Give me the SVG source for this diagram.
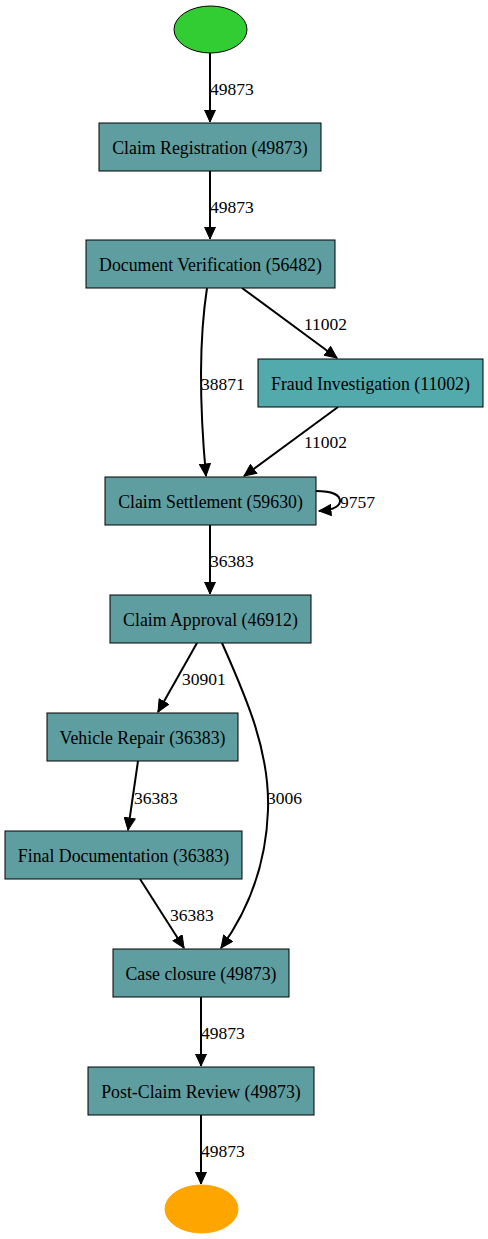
<svg xmlns="http://www.w3.org/2000/svg" width="488" height="1239" viewBox="0 0 488 1239">
<style>
text{font-family:"Liberation Serif","Times New Roman",serif;font-size:17.5px;fill:#000}
.n rect{fill:#5f9ea0;stroke:#000;stroke-width:1}
.n text{text-anchor:middle;font-size:17.8px}
.e path{fill:none;stroke:#000;stroke-width:2;marker-end:url(#ah)}
</style>
<defs>
<marker id="ah" markerUnits="userSpaceOnUse" markerWidth="14" markerHeight="12" viewBox="0 0 13 12" refX="12" refY="6" orient="auto">
<path d="M0,0.5 L12,6 L0,11.5 z" fill="#000" stroke="#000" stroke-width="1"/>
</marker>
</defs>
<rect width="488" height="1239" fill="#fff"/>
<g id="connectors" class="e">
<path d="M210,53 L210,122"/>
<text x="210" y="95">49873</text>
<path d="M210,171 L210,239"/>
<text x="210" y="213">49873</text>
<path d="M242,288 L337,358"/>
<text x="304" y="330">11002</text>
<path d="M207,288 C199,340 199,400 206,476"/>
<text x="201" y="390">38871</text>
<path d="M338,407 L244,476"/>
<text x="304" y="448">11002</text>
<path d="M316,491 C332,491 340,495 340,501 C340,507 332,510 319,511"/>
<text x="340" y="508">9757</text>
<path d="M210,525 L210,594"/>
<text x="210" y="567">36383</text>
<path d="M197,643 L158,712"/>
<text x="182" y="685">30901</text>
<path d="M222,643 C245,695 270,750 268,810 C266,870 245,915 221,948"/>
<text x="267" y="804">3006</text>
<path d="M138,761 L128,830"/>
<text x="134" y="804">36383</text>
<path d="M140,879 L184,948"/>
<text x="170" y="921">36383</text>
<path d="M201,997 L201,1066"/>
<text x="201" y="1039">49873</text>
<path d="M201,1115 L201,1184"/>
<text x="201" y="1157">49873</text>
</g>
<g id="start"><ellipse cx="210.5" cy="29.5" rx="36.5" ry="23.5" fill="#32cd32" stroke="#000" stroke-width="1"/></g>
<g id="claim_registration" class="n"><rect x="99" y="123" width="222" height="48"/><text x="210" y="154">Claim Registration (49873)</text></g>
<g id="document_verification" class="n"><rect x="86" y="240" width="249" height="48"/><text x="210.5" y="271">Document Verification (56482)</text></g>
<g id="fraud_investigation" class="n"><rect x="258" y="359" width="225" height="48" style="fill:#53aaad"/><text x="370.5" y="390">Fraud Investigation (11002)</text></g>
<g id="claim_settlement" class="n"><rect x="105" y="477" width="211" height="48"/><text x="210.5" y="508">Claim Settlement (59630)</text></g>
<g id="claim_approval" class="n"><rect x="110" y="595" width="201" height="48"/><text x="210.5" y="626">Claim Approval (46912)</text></g>
<g id="vehicle_repair" class="n"><rect x="47" y="713" width="191" height="48"/><text x="142.5" y="744">Vehicle Repair (36383)</text></g>
<g id="final_documentation" class="n"><rect x="5" y="831" width="237" height="48"/><text x="123.5" y="862">Final Documentation (36383)</text></g>
<g id="case_closure" class="n"><rect x="113" y="949" width="176" height="48"/><text x="201" y="980">Case closure (49873)</text></g>
<g id="post_claim_review" class="n"><rect x="88" y="1067" width="226" height="48"/><text x="201" y="1098">Post-Claim Review (49873)</text></g>
<g id="end"><ellipse cx="201.5" cy="1209" rx="36.5" ry="24" fill="#ffa500" stroke="#ffa500" stroke-width="1"/></g>
</svg>
